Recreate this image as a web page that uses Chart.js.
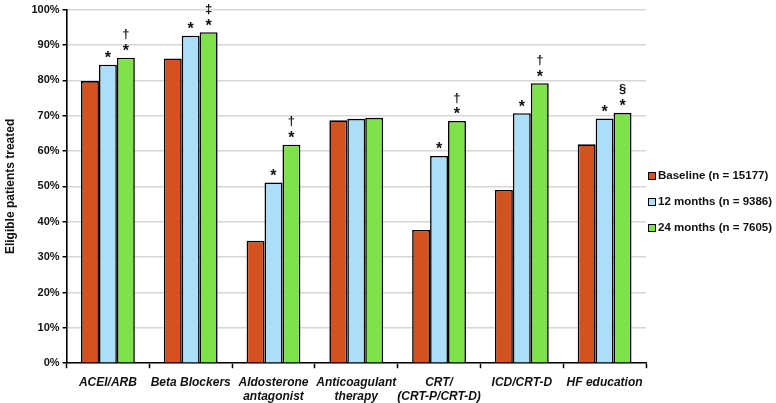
<!DOCTYPE html>
<html>
<head>
<meta charset="utf-8">
<script src="https://cdn.jsdelivr.net/npm/chart.js@4.4.0/dist/chart.umd.min.js"></script>
<style>
  body { margin: 0; background: #fff; }
  #wrap { width: 776px; height: 403px; }
</style>
</head>
<body>
<div id="wrap"><canvas id="chart" width="776" height="403"></canvas></div>
<script>
// values (% of eligible patients treated)
const categories = [
  ["ACEI/ARB"], ["Beta Blockers"], ["Aldosterone", "antagonist"],
  ["Anticoagulant", "therapy"], ["CRT/", "(CRT-P/CRT-D)"], ["ICD/CRT-D"], ["HF education"]
];
const seriesNames = ["Baseline (n = 15177)", "12 months (n = 9386)", "24 months (n = 7605)"];
const baseline = [79.8, 86.2, 34.6, 68.7, 37.7, 49.0, 61.9];
const months12 = [84.4, 92.6, 51.1, 69.1, 58.6, 70.7, 69.2];
const months24 = [86.4, 93.6, 61.8, 69.4, 68.5, 79.2, 70.8];
// significance marks over the bars
const marks12 = ["*", "*", "*", "", "*", "*", "*"];
const marks24 = ["*", "*", "*", "", "*", "*", "*"];
const extra24 = ["\u2020", "\u2021", "\u2020", "", "\u2020", "\u2020", "\u00a7"];

const colors = ["#d3521f", "#acdff7", "#7fe24a"];
const FONT = "'Liberation Sans', Arial, sans-serif";

const marksPlugin = {
  id: "marks",
  afterDatasetsDraw(chart) {
    const ctx = chart.ctx;
    const sets = [null, [marks12, null], [marks24, extra24]];
    ctx.save();
    ctx.fillStyle = "#111";
    ctx.textAlign = "center";
    ctx.textBaseline = "middle";
    for (let d = 1; d < 3; d++) {
      const meta = chart.getDatasetMeta(d);
      meta.data.forEach((bar, i) => {
        const star = sets[d][0][i];
        const sym = sets[d][1] ? sets[d][1][i] : "";
        if (star) {
          ctx.font = "bold 16px " + FONT;
          ctx.fillText(star, bar.x, bar.y - 6);
        }
        if (sym) {
          ctx.font = "bold 13px " + FONT;
          ctx.fillText(sym, bar.x, bar.y - 23);
        }
      });
    }
    ctx.restore();
  }
};

const legendPlugin = {
  id: "sideLegend",
  afterDraw(chart) {
    const ctx = chart.ctx;
    const x0 = chart.chartArea.right + 2;
    const y0 = 176;
    ctx.save();
    ctx.font = "bold 11.5px " + FONT;
    ctx.textBaseline = "middle";
    chart.data.datasets.forEach((ds, i) => {
      const y = y0 + i * 26;
      ctx.fillStyle = ds.backgroundColor;
      ctx.fillRect(x0, y - 4, 7, 7);
      ctx.strokeStyle = "#000";
      ctx.lineWidth = 1;
      ctx.strokeRect(x0 + 0.5, y - 3.5, 7, 7);
      ctx.fillStyle = "#111";
      ctx.fillText(ds.label, x0 + 10, y);
    });
    ctx.restore();
  }
};

new Chart(document.getElementById("chart"), {
  type: "bar",
  data: {
    labels: categories,
    datasets: [baseline, months12, months24].map((vals, i) => ({
      label: seriesNames[i],
      data: vals,
      backgroundColor: colors[i],
      borderColor: "#000",
      borderWidth: 1.6,
      barPercentage: 1,
      categoryPercentage: 0.65
    }))
  },
  options: {
    responsive: false,
    animation: false,
    layout: { padding: { left: 3, right: 130, top: 8, bottom: -8 } },
    plugins: { legend: { display: false }, tooltip: { enabled: false } },
    scales: {
      x: {
        grid: { display: true, drawOnChartArea: false, tickLength: 5, tickColor: "#000", tickWidth: 1.5 },
        border: { color: "#000", width: 1.6 },
        ticks: { color: "#111", font: { family: FONT, size: 12, weight: "bold", style: "italic", lineHeight: 1.2 }, padding: 7, maxRotation: 0, autoSkip: false }
      },
      y: {
        min: 0, max: 100,
        grid: { color: "#d6d6d6", lineWidth: 1.5, tickLength: 4, tickColor: "#000" },
        border: { color: "#000", width: 1.6 },
        ticks: { stepSize: 10, color: "#111", padding: 3, font: { family: FONT, size: 11, weight: "bold" }, callback: v => v + "%" },
        title: { display: true, text: "Eligible patients treated", color: "#111", font: { family: FONT, size: 12, weight: "bold" }, padding: { top: 0, bottom: 11 } }
      }
    }
  },
  plugins: [marksPlugin, legendPlugin]
});
</script>
</body>
</html>
